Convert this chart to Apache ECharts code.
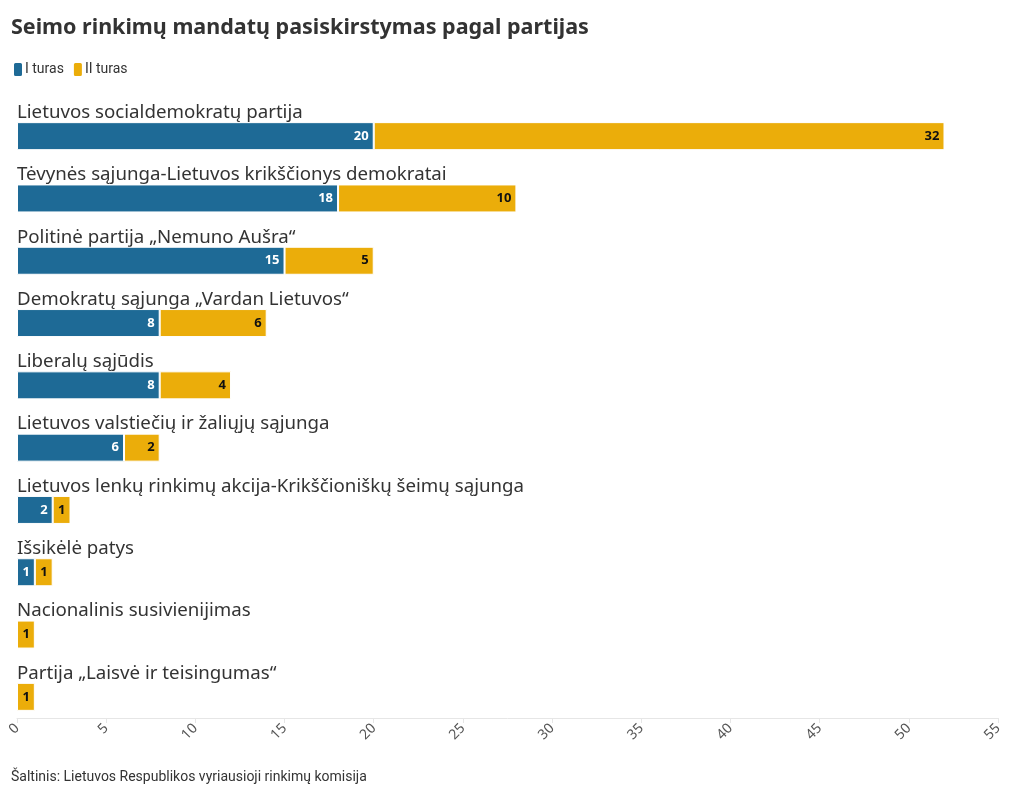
<!DOCTYPE html>
<html><head><meta charset="utf-8">
<script src="https://cdn.jsdelivr.net/npm/echarts@6/dist/echarts.min.js"></script>
<style>html,body{margin:0;padding:0;background:#fff}#c{width:1020px;height:798px}</style>
</head><body><div id="c"></div>
<script>
const categories = [
  'Lietuvos socialdemokratų partija',
  'Tėvynės sąjunga-Lietuvos krikščionys demokratai',
  'Politinė partija „Nemuno Aušra“',
  'Demokratų sąjunga „Vardan Lietuvos“',
  'Liberalų sąjūdis',
  'Lietuvos valstiečių ir žaliųjų sąjunga',
  'Lietuvos lenkų rinkimų akcija-Krikščioniškų šeimų sąjunga',
  'Išsikėlė patys',
  'Nacionalinis susivienijimas',
  'Partija „Laisvė ir teisingumas“'
];
const round1 = [20, 18, 15, 8, 8, 6, 2, 1, 0, 0];
const round2 = [32, 10, 5, 6, 4, 2, 1, 1, 1, 1];
const seriesNames = ['I turas', 'II turas'];
const title = 'Seimo rinkimų mandatų pasiskirstymas pagal partijas';
const source = 'Šaltinis: Lietuvos Respublikos vyriausioji rinkimų komisija';

const FONT = '"Noto Sans", "DejaVu Sans", sans-serif';
const NARROW = '"Liberation Sans Narrow", "Roboto", sans-serif';
const chart = echarts.init(document.getElementById('c'));
const lbl = (color) => ({
  show: true, position: 'insideRight', color: color, fontWeight: 'bold',
  fontSize: 13, fontFamily: FONT, distance: 5,
  formatter: p => (p.value ? p.value : '')
});
chart.setOption({
  animation: false,
  title: [{
    text: title, left: 6, top: 12,
    textStyle: {fontSize: 21.5, fontWeight: 'bold', color: '#333', fontFamily: FONT}
  }, {
    text: source, left: 6, top: 765,
    textStyle: {fontSize: 14, fontWeight: 'normal', color: '#333', fontFamily: NARROW}
  }],
  legend: {
    left: 7, top: 56, itemWidth: 10, itemHeight: 15, itemGap: 8,
    icon: 'roundRect',
    textStyle: {fontSize: 14, color: '#333', fontFamily: NARROW, padding: [0,0,0,-3]},
    data: seriesNames
  },
  grid: {left: 17, right: 22, top: 105, bottom: 70, containLabel: false},
  xAxis: {
    type: 'value', min: 0, max: 55, interval: 5, offset: -10,
    axisLine: {show: true, lineStyle: {color: '#e6e6e6'}},
    axisTick: {show: true, length: 5, lineStyle: {color: '#e6e6e6'}},
    splitLine: {show: false},
    axisLabel: {rotate: 45, color: '#555', fontSize: 14, fontFamily: FONT, margin: 8}
  },
  yAxis: {
    type: 'category', inverse: true, data: categories,
    axisLine: {show: false}, axisTick: {show: false},
    axisLabel: {
      inside: true, margin: 0, align: 'left', verticalAlign: 'bottom',
      padding: [0, 0, 14, 0],
      fontSize: 18.7, color: '#333', fontFamily: FONT
    }
  },
  series: [{
    name: seriesNames[0], type: 'bar', stack: 'a', data: round1, barWidth: 28,
    itemStyle: {color: '#1e6a96', borderColor: '#fff', borderWidth: 1},
    label: lbl('#fff')
  }, {
    name: seriesNames[1], type: 'bar', stack: 'a', data: round2, barWidth: 28,
    itemStyle: {color: '#ebad0a', borderColor: '#fff', borderWidth: 1},
    label: lbl('#111')
  }]
});
</script></body></html>
